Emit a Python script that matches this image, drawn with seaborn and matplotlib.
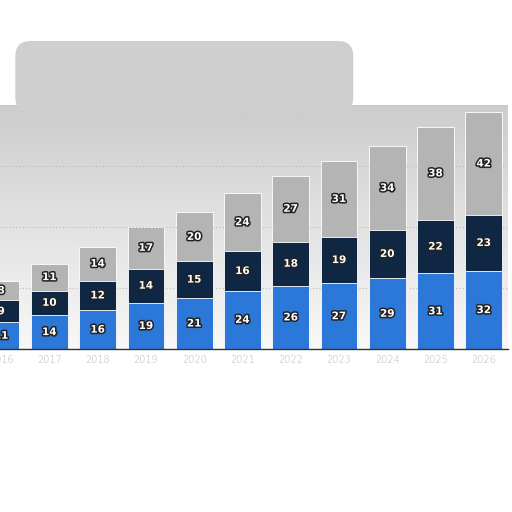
import matplotlib
matplotlib.use("Agg")
import matplotlib.pyplot as plt
import matplotlib.patheffects as pe
from matplotlib.patches import FancyBboxPatch
import numpy as np
import pandas as pd
import seaborn as sns

years = ["2016", "2017", "2018", "2019", "2020", "2021",
         "2022", "2023", "2024", "2025", "2026"]
blue_vals = [11, 14, 16, 19, 21, 24, 26, 27, 29, 31, 32]
navy_vals = [9, 10, 12, 14, 15, 16, 18, 19, 20, 22, 23]
gray_vals = [8, 11, 14, 17, 20, 24, 27, 31, 34, 38, 42]

c_blue = "#2b78d8"
c_navy = "#0f2743"
c_gray = "#b4b4b4"

df = pd.DataFrame({"year": years, "blue": blue_vals,
                   "navy": navy_vals, "gray": gray_vals})
df["bn"] = df["blue"] + df["navy"]
df["total"] = df["bn"] + df["gray"]

sns.set_style("white")
fig = plt.figure(figsize=(5.12, 5.12), dpi=100)

# washed-out grey smear above the plot
fig.patches.append(FancyBboxPatch((0.04, 0.79), 0.64, 0.12,
                                  boxstyle="round,pad=0.01,rounding_size=0.03",
                                  transform=fig.transFigure,
                                  facecolor="#cfcfcf", edgecolor="none", zorder=0))

ax = fig.add_axes([-0.045, 0.318, 1.037, 0.477])

# grey-to-white background inside the plot area
grad = np.linspace(0.80, 0.97, 100).reshape(-1, 1)
ax.imshow(grad, cmap="gray", vmin=0, vmax=1, aspect="auto",
          extent=[0, 1, 0, 1], transform=ax.transAxes, zorder=0,
          origin="upper")

w = 0.76
sns.barplot(data=df, x="year", y="total", color=c_gray, width=w,
            saturation=1, ax=ax, zorder=2)
sns.barplot(data=df, x="year", y="bn", color=c_navy, width=w,
            saturation=1, ax=ax, zorder=3)
sns.barplot(data=df, x="year", y="blue", color=c_blue, width=w,
            saturation=1, ax=ax, zorder=4)

for bar in ax.patches:
    bar.set_edgecolor("white")
    bar.set_linewidth(0.6)

stroke = [pe.withStroke(linewidth=2.2, foreground="#222222")]
for i in range(len(years)):
    b, n, g = blue_vals[i], navy_vals[i], gray_vals[i]
    for y, v in [(b / 2, b), (b + n / 2, n), (b + n + g / 2, g)]:
        ax.text(i, y, str(v), ha="center", va="center", color="white",
                fontsize=7.5, fontweight="bold", path_effects=stroke, zorder=6)

ax.set_xlim(-0.5, 10.5)
ax.set_ylim(0, 100)
ax.set_yticks([0, 25, 50, 75, 100])
ax.yaxis.grid(True, linestyle=(0, (1, 2)), color="#bbbbbb", linewidth=0.8)
ax.set_axisbelow(False)
for line in ax.get_ygridlines():
    line.set_zorder(1)
ax.set_yticklabels([])
ax.tick_params(axis="both", length=0)
ax.tick_params(axis="x", colors="#d8d8d8", labelsize=7, pad=4)
ax.set_xlabel("")
ax.set_ylabel("")
for s in ["top", "right", "left"]:
    ax.spines[s].set_visible(False)
ax.spines["bottom"].set_color("#333333")
ax.spines["bottom"].set_linewidth(1.0)
ax.spines["bottom"].set_zorder(7)

fig.savefig("out.png", dpi=100)
